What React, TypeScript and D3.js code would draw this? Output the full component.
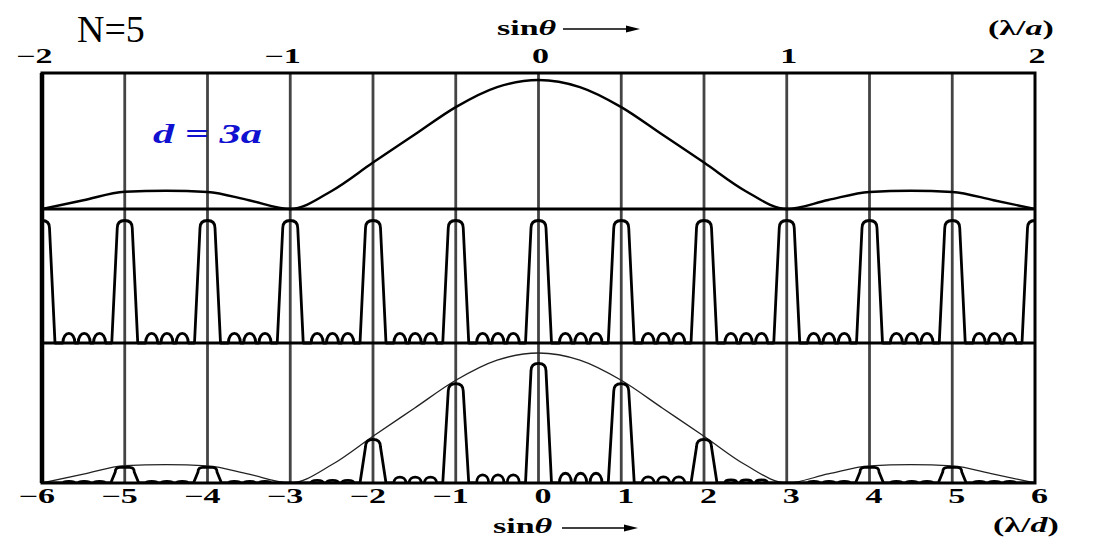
import React from "react";
import * as d3 from "d3";

const W = 1108;
const H = 545;

// λ/d axis (bottom), λ/a axis (top)
const ordersD = [-6, -5, -4, -3, -2, -1, 0, 1, 2, 3, 4, 5, 6];
const labelsD = ["−6", "−5", "−4", "−3", "−2", "−1", "0", "1", "2", "3", "4", "5", "6"];
const ordersA = [-2, -1, 0, 1, 2];
const labelsA = ["−2", "−1", "0", "1", "2"];

// single-slit envelope (position in λ/d, relative intensity)
const envPos = [-6, -5.5, -5, -4.5, -4, -3.5, -3, -2.5, -2, -1.5, -1, -0.5, 0, 0.5, 1, 1.5, 2, 2.5, 3, 3.5, 4, 4.5, 5, 5.5, 6];
const envVal = [0, 0.068, 0.134, 0.142, 0.132, 0.068, 0, 0.14, 0.36, 0.575, 0.79, 0.945, 1, 0.945, 0.79, 0.575, 0.36, 0.14, 0, 0.07, 0.132, 0.142, 0.132, 0.068, 0];

// multi-slit (N=5) interference: principal maxima and secondary maxima per interval
const gratingPeaks = [1, 1, 1, 1, 1, 1, 1, 1, 1, 1, 1, 1, 1];
const gratingSub = [0.078, 0.078, 0.078, 0.078, 0.078, 0.078, 0.078, 0.078, 0.078, 0.078, 0.078, 0.078];
const subOffsets = [0.325, 0.51, 0.695];

// product pattern
const productPeaks = [0, 0.12, 0.12, 0, 0.335, 0.765, 0.92, 0.765, 0.335, 0, 0.12, 0.12, 0];
const productSub = [0.012, 0.012, 0.012, 0.02, 0.045, 0.062, 0.075, 0.047, 0.023, 0.012, 0.012, 0.012];

const SERIF = "'Liberation Serif', 'Times New Roman', serif";

export default function App() {
  const left = 42;
  const right = 1035;
  const top = 73;
  const base1 = 209;
  const base2 = 343;
  const base3 = 483;

  const x = d3.scaleLinear().domain([-6, 6]).range([left, right]);
  const y1 = d3.scaleLinear().domain([0, 1]).range([base1, 80]);
  const y2 = d3.scaleLinear().domain([0, 1]).range([base2, 220.5]);
  const y3 = d3.scaleLinear().domain([0, 1]).range([base3, 353]);

  const envPts: [number, number][] = envPos.map((p, i) => [p, envVal[i]]);
  const env1 = d3.line<[number, number]>().x((d) => x(d[0])).y((d) => y1(d[1])).curve(d3.curveMonotoneX)(envPts) || "";
  const env3 = d3.line<[number, number]>().x((d) => x(d[0])).y((d) => y3(d[1])).curve(d3.curveMonotoneX)(envPts) || "";

  function trace(y: d3.ScaleLinear<number, number>, peaks: number[], subs: number[]) {
    const p = d3.path();
    const base = y(0);
    ordersD.forEach((o, i) => {
      const c = x(o);
      const h = peaks[i];
      const hp = base - y(h);
      if (i === 0) p.moveTo(c - 14, base);
      if (hp > 0.5) {
        const short = hp < 25;
        const bw = short ? 14 : 13;
        const tw = short ? 9.5 : 7.5;
        const r = Math.min(tw, hp * 0.3);
        const t = y(h);
        p.lineTo(c - bw, base);
        p.lineTo(c - tw, t + r);
        p.quadraticCurveTo(c - tw, t, c - tw + r, t);
        p.lineTo(c + tw - r, t);
        p.quadraticCurveTo(c + tw, t, c + tw, t + r);
        p.lineTo(c + bw, base);
      }
      if (i < ordersD.length - 1) {
        const sh = base - y(subs[i]);
        subOffsets.forEach((off) => {
          const cx = x(o + off);
          const sw = 6;
          p.lineTo(cx - sw, base);
          p.bezierCurveTo(cx - sw, base - (sh * 4) / 3, cx + sw, base - (sh * 4) / 3, cx + sw, base);
        });
      } else {
        p.lineTo(c + 14, base);
      }
    });
    return p.toString();
  }

  const path2 = trace(y2, gratingPeaks, gratingSub);
  const path3 = trace(y3, productPeaks, productSub);

  const SX = 1.7;
  const labelX = (v: number, lab: string, off: number) => x(v) + off - (lab.startsWith("−") ? 9.7 : 0);

  return (
    <svg width={W} height={H} style={{ position: "absolute", left: 0, top: 0, background: "#fff" }} fontFamily={SERIF}>
      <defs>
        <clipPath id="plotclip">
          <rect x={left} y={top} width={right - left} height={base3 - top} />
        </clipPath>
      </defs>
      <rect x={0} y={0} width={W} height={H} fill="#fff" />

      {/* grid lines */}
      {ordersD.slice(1, -1).map((o) => (
        <line key={"g" + o} x1={x(o)} x2={x(o)} y1={top} y2={base3} stroke="#444" strokeWidth={2.8} />
      ))}

      {/* curves */}
      <g clipPath="url(#plotclip)" fill="none" stroke="#000" strokeLinejoin="round">
        <path d={env1} strokeWidth={2.4} />
        <path d={path2} strokeWidth={2.8} />
        <path d={env3} strokeWidth={1.3} stroke="#222" />
        <path d={path3} strokeWidth={2.8} />
      </g>

      {/* frame */}
      <g stroke="#000" fill="none">
        <rect x={left} y={top} width={right - left} height={base3 - top} strokeWidth={3} />
        <line x1={left} x2={left} y1={top} y2={base3} strokeWidth={4.5} />
        <line x1={left} x2={right} y1={base1} y2={base1} strokeWidth={3} />
        <line x1={left} x2={right} y1={base2} y2={base2} strokeWidth={3} />
      </g>

      {/* top axis labels (λ/a) */}
      {ordersA.map((v, i) => (
        <text
          key={"ta" + v}
          transform={`translate(${labelX(3 * v, labelsA[i], 2)},63) scale(${SX},1)`}
          textAnchor="middle"
          fontWeight="bold"
          fontSize={20}
        >
          {labelsA[i]}
        </text>
      ))}

      {/* bottom axis labels (λ/d) */}
      {ordersD.map((v, i) => (
        <text
          key={"bd" + v}
          transform={`translate(${labelX(v, labelsD[i], 4.5)},503) scale(${SX},1)`}
          textAnchor="middle"
          fontWeight="bold"
          fontSize={20}
        >
          {labelsD[i]}
        </text>
      ))}

      {/* sinθ arrows */}
      <text transform={`translate(497,35) scale(${SX},1)`} fontWeight="bold" fontSize={20}>
        sin<tspan fontStyle="italic">θ</tspan>
      </text>
      <line x1={563} x2={630} y1={29} y2={29} stroke="#000" strokeWidth={1.6} />
      <path d="M640,29 L626,25.5 L626,32.5 Z" fill="#000" />

      <text transform={`translate(493,533) scale(${SX},1)`} fontWeight="bold" fontSize={20}>
        sin<tspan fontStyle="italic">θ</tspan>
      </text>
      <line x1={562} x2={628} y1={528} y2={528} stroke="#000" strokeWidth={1.6} />
      <path d="M638,528 L624,524.5 L624,531.5 Z" fill="#000" />

      {/* units */}
      <text transform={`translate(988,35) scale(${SX},1)`} fontWeight="bold" fontSize={20}>
        (λ/<tspan fontStyle="italic">a</tspan>)
      </text>
      <text transform={`translate(993,532) scale(${SX},1)`} fontWeight="bold" fontSize={20}>
        (λ/<tspan fontStyle="italic">d</tspan>)
      </text>

      {/* annotations */}
      <text x={77} y={42} fontSize={38} fill="#000">
        N=5
      </text>
      <text
        x={153}
        y={143}
        fontSize={27}
        fontWeight="bold"
        fontStyle="italic"
        fill="#1010d0"
        textLength={109}
        lengthAdjust="spacingAndGlyphs"
      >
        d = 3a
      </text>
    </svg>
  );
}
